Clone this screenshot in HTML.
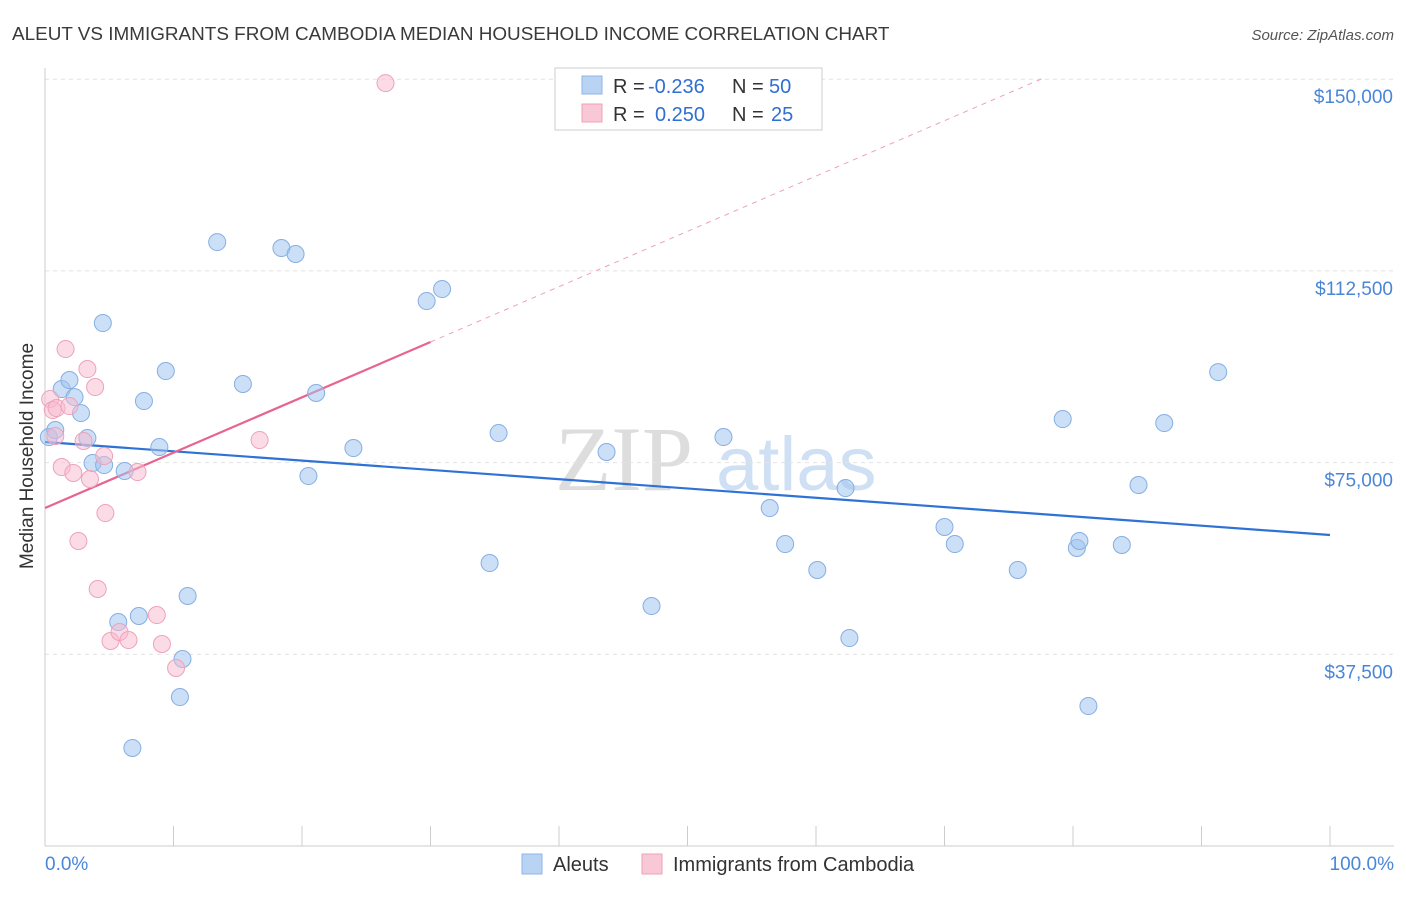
<!DOCTYPE html>
<html><head><meta charset="utf-8"><style>
body{margin:0;background:#fff;font-family:"Liberation Sans",sans-serif;}
</style></head><body>
<svg width="1406" height="892" xmlns="http://www.w3.org/2000/svg" font-family="Liberation Sans, sans-serif">
<text x="12" y="40" font-size="18.9" fill="#3a3a3a">ALEUT VS IMMIGRANTS FROM CAMBODIA MEDIAN HOUSEHOLD INCOME CORRELATION CHART</text>
<text x="1394" y="40" font-size="15" fill="#555" font-style="italic" text-anchor="end">Source: ZipAtlas.com</text>
<g><text x="555" y="490" font-size="92" fill="#ddd" font-family="Liberation Serif, serif">ZIP</text><text x="716" y="490" font-size="76" fill="#cfe0f4">atlas</text></g>
<g id="grid"></g>
<g id="axes"></g>
<g id="lines"></g>
<g id="pts"></g>
<text x="33" y="456" font-size="19" fill="#333" text-anchor="middle" transform="rotate(-90 33 456)">Median Household Income</text>
<text x="45" y="870" font-size="19" fill="#4a86d8">0.0%</text>
<text x="1394" y="870" font-size="19" fill="#4a86d8" text-anchor="end">100.0%</text>
<g>
<rect x="555" y="68" width="267" height="62" fill="#fff" stroke="#ccc"/>
<rect x="582" y="76" width="20" height="18" fill="#b8d3f4" stroke="#8fb6e6"/>
<rect x="582" y="104" width="20" height="18" fill="#f9c8d6" stroke="#f0a0b8"/>
<text x="613" y="93" font-size="20" fill="#333">R = <tspan x="648" fill="#2f6fd0">-0.236</tspan><tspan x="732">N = </tspan><tspan x="769" fill="#2f6fd0">50</tspan></text>
<text x="613" y="121" font-size="20" fill="#333">R = <tspan x="655" fill="#2f6fd0">0.250</tspan><tspan x="732">N = </tspan><tspan x="771" fill="#2f6fd0">25</tspan></text>
</g>
<g>
<rect x="522" y="854" width="20" height="20" fill="#b8d3f4" stroke="#8fb6e6"/>
<text x="553" y="871" font-size="20" fill="#333">Aleuts</text>
<rect x="642" y="854" width="20" height="20" fill="#f9c8d6" stroke="#f0a0b8"/>
<text x="673" y="871" font-size="20" fill="#333">Immigrants from Cambodia</text>
</g>
</svg>
<script>
const yTicks=[37500,75000,112500,150000];
const yTickLabels=["$37,500","$75,000","$112,500","$150,000"];
const xTicks=[0,10,20,30,40,50,60,70,80,90,100];
const blueX=[0.3,0.8,1.3,1.9,2.3,2.8,3.3,3.7,4.5,4.6,6.2,5.7,7.3,6.8,7.7,8.9,9.4,10.7,11.1,10.5,13.4,15.4,18.4,19.5,20.5,21.1,24.0,29.7,30.9,34.6,35.3,43.7,47.2,52.8,56.4,57.6,60.1,62.3,62.6,70.0,70.8,75.7,79.2,80.3,80.5,81.2,83.8,85.1,87.1,91.3];
const blueY=[80000,81370,89390,91150,87820,84690,79800,74910,102300,74520,73350,43810,44990,19170,87040,78040,92910,36580,48900,29140,118140,90370,116970,115800,72370,88610,77850,106600,108950,55350,80780,77070,46940,80000,66110,59070,53990,70020,40680,62400,59070,53990,83520,58290,59660,27380,58880,70610,82740,92710];
const pinkX=[26.5,0.4,0.6,0.9,0.8,1.6,1.9,1.3,2.2,2.6,3.0,3.3,3.5,3.9,4.1,4.6,4.7,5.1,5.8,6.5,7.2,8.7,9.1,10.2,16.7];
const pinkY=[149240,87430,85280,85670,80200,97210,86060,74130,72960,59660,79220,93300,71790,89780,50270,76280,65130,40100,41860,40290,73150,45180,39510,34820,79410];
const blueTrend=[79030,60840];
const pinkTrend=[66120,98590];
const NS="http://www.w3.org/2000/svg";
const X=p=>45+p*12.85, Y=v=>846-v/37500*191.7;
function mk(t,a,parent){const e=document.createElementNS(NS,t);for(const k in a)e.setAttribute(k,a[k]);document.getElementById(parent).appendChild(e);return e;}
yTicks.forEach((v,i)=>{
 const g=mk('line',{x1:45,x2:1394,y1:Y(v),y2:Y(v),stroke:'#e2e2e2','stroke-dasharray':'4,4'},'grid');
 
 
 const t=mk('text',{x:1393,y:Y(v)+24,'font-size':19,fill:'#4a86d8','text-anchor':'end'},'grid');
 t.textContent=yTickLabels[i];
 
 
});
mk('line',{x1:45,x2:45,y1:68,y2:846,stroke:'#ccc'},'axes');
mk('line',{x1:45,x2:1394,y1:846,y2:846,stroke:'#ccc'},'axes');
xTicks.forEach(p=>{const t=mk('line',{x1:X(p),x2:X(p),y1:826,y2:846,stroke:'#ccc'},'axes');
 
 });
const pt=p=>pinkTrend[0]+(pinkTrend[1]-pinkTrend[0])*p/30;
const l1=mk('line',{x1:X(0),y1:Y(blueTrend[0]),x2:X(100),y2:Y(blueTrend[1]),stroke:'#2f72d6','stroke-width':2.2},'lines');


const l2=mk('line',{x1:X(0),y1:Y(pt(0)),x2:X(30),y2:Y(pt(30)),stroke:'#e8648f','stroke-width':2.2},'lines');


const l3=mk('line',{x1:X(30),y1:Y(pt(30)),x2:X(77.8),y2:Y(pt(77.8)),stroke:'#f0a0b8','stroke-width':1,'stroke-dasharray':'5,5'},'lines');


blueX.forEach((p,i)=>{const c=mk('circle',{cx:X(p),cy:Y(blueY[i]),r:8.5,fill:'rgba(160,196,240,0.55)',stroke:'#86aee3','stroke-width':1},'pts');
 
 });
pinkX.forEach((p,i)=>{const c=mk('circle',{cx:X(p),cy:Y(pinkY[i]),r:8.5,fill:'rgba(248,185,205,0.5)',stroke:'#eea2ba','stroke-width':1},'pts');
 
 });
</script>
</body></html>
